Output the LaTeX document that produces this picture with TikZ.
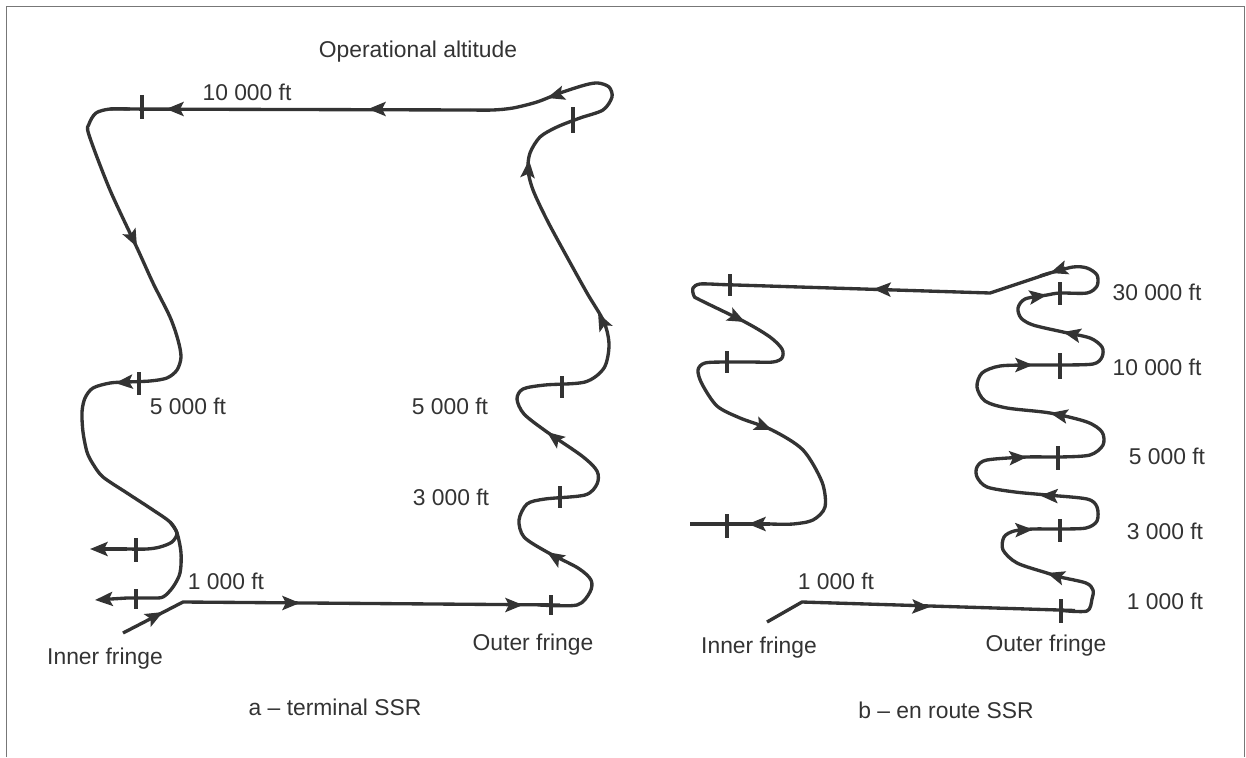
\documentclass[tikz,border=0pt]{standalone}
\usepackage{fontspec}
\setmainfont{Liberation Sans}
\usepackage{tikz}
\usetikzlibrary{arrows.meta}
\definecolor{ink}{HTML}{333333}
\definecolor{frame}{HTML}{777777}

\begin{document}
\begin{tikzpicture}[x=0.02cm,y=-0.02cm]
			\tikzstyle{route}=[draw=ink,line width=1.9pt,line join=round]
			\tikzstyle{flow}=[route,-{Stealth[length=10pt,width=8pt,inset=2pt]}]
			\tikzstyle{lbl}=[text=ink,font=\fontsize{13}{15}\selectfont,inner sep=0pt]
			
			\useasboundingbox (0,0) rectangle (1246,757);
			\draw[frame,line width=1pt] (6.5,757) -- (6.5,6.5) -- (1244.5,6.5) -- (1244.5,757);
			
			% a - terminal SSR
			\draw[route] (123,633) -- (183,602) -- (560,605);
			\draw[route] plot[smooth] coordinates {(540,605) (577,605) (590,592) (591,580) (578,568) (547,552) (524,537) (519,520) (527,504) (545,499) (585,495) (597,484) (597,471) (582,456) (547,432) (524,414) (517,399) (523,389) (545,385) (585,382) (604,368) (609,345) (604,322) (587,293) (567,257) (547,220) (533,190) (528,170) (530,153) (540,137) (557,127) (580,118) (603,110) (612,97) (609,87) (598,83) (585,85) (560,93) (537,102) (513,108) (493,110) (470,110)};
			\draw[route] (470,110) -- (110,109);
			\draw[route] plot[smooth] coordinates {(130,109) (110,109) (96,113) (89,124) (89,135) (110,190) (138,250) (153,283) (170,317) (178,340) (181,357) (177,370) (167,378) (150,381) (127,382) (110,383) (93,388) (85,398) (82,412) (83,432) (87,452) (93,464) (103,477) (127,493) (153,510) (170,522) (177,533) (181,553) (180,573) (173,587) (163,597) (150,598) (127,598)};
			\draw[route] plot[smooth] coordinates {(170,522) (177,533) (172,542) (160,547) (147,549) (127,549)};
			\draw[flow] (127,598) -- (95,600);
			\draw[flow] (127,549) -- (90,549);
			
			\draw[flow] (150,619) -- (163,612);
			\draw[flow] (285,603) -- (300,603);
			\draw[flow] (510,605) -- (523,605);
			\draw[flow] (558,559) -- (547,552);
			\draw[flow] (555,438) -- (547,432);
			\draw[flow] (603,323) -- (598,313);
			\draw[flow] (528,172) -- (529,160);
			\draw[flow] (560,94) -- (547,98);
			\draw[flow] (383,109) -- (368,109);
			\draw[flow] (180,109) -- (166,109);
			\draw[flow] (131,235) -- (137,247);
			\draw[flow] (128,382) -- (115,383);
			
			\draw[route] (551,595) -- (551,615);
			\draw[route] (560,486) -- (560,508);
			\draw[route] (562,376) -- (562,398);
			\draw[route] (573,107) -- (573,133);
			\draw[route] (142,95) -- (142,119);
			\draw[route] (139,372) -- (139,395);
			\draw[route] (136,538) -- (136,562);
			\draw[route] (136,589) -- (136,609);
			
			\node[lbl] (opalt) at (418,52) {Operational altitude};
			\node[lbl] (a10k) at (247,92) {10 000 ft};
			\node[lbl] (a5kin) at (188,406) {5 000 ft};
			\node[lbl] (a5kout) at (450,406) {5 000 ft};
			\node[lbl] (a3k) at (451,497) {3 000 ft};
			\node[lbl] (a1k) at (226,581) {1 000 ft};
			\node[lbl] (ainner) at (105,659) {Inner fringe};
			\node[lbl] (aouter) at (533,645) {Outer fringe};
			\node[lbl] (acap) at (335,707) {a -- terminal SSR};
			
			% b - en route SSR
			\draw[route] (767,622) -- (802,602) -- (1075,610.5);
			\draw[route] plot[smooth] coordinates {(1062,610.5) (1087,611) (1092,599) (1093,590) (1086,583) (1060,577) (1047,573) (1017,563) (1003,550) (1004,537) (1014,531) (1033,529) (1060,529) (1086,528) (1097,521) (1097,507) (1087,499) (1047,495) (1015,492) (987,487) (977,477) (977,467) (987,460) (1027,457) (1060,457) (1090,455) (1103,445) (1102,432) (1087,422) (1050,413) (1007,408) (985,401) (977,387) (982,373) (1000,366) (1033,365) (1060,365) (1093,364) (1102,357) (1102,347) (1090,338) (1063,332) (1033,325) (1021,318) (1018,308) (1025,299) (1047,295) (1060,293) (1087,293) (1097,286) (1097,275) (1087,268) (1073,267) (1050,273) (1040,276)};
			\draw[route] (1050,273) -- (990,293) -- (720,284.5);
			\draw[route] plot[smooth] coordinates {(720,284.5) (700,284) (693,288) (694,296) (700,300) (745,322) (770,337) (782,349) (782,358) (773,362) (750,362) (727,362) (705,363) (698,370) (702,384) (717,406) (740,418) (772,430) (803,450) (822,482) (825,507) (813,520) (793,524) (770,524)};
			\draw[route] (770,524) -- (690,524);
			
			\draw[flow] (915,606.5) -- (930,607);
			\draw[flow] (1060,577) -- (1047,573);
			\draw[flow] (1018,530) -- (1033,529.5);
			\draw[flow] (1055,496) -- (1040,495.5);
			\draw[flow] (1012,458) -- (1027,457);
			\draw[flow] (1065,416) -- (1050,413);
			\draw[flow] (1018,365) -- (1033,365);
			\draw[flow] (1077,335) -- (1063,332);
			\draw[flow] (1033,297) -- (1047,295);
			\draw[flow] (1065,268) -- (1050,273);
			\draw[flow] (888,289.5) -- (873,289);
			\draw[flow] (733,316) -- (745,322);
			\draw[flow] (760,425) -- (772,430);
			\draw[flow] (763,524) -- (748,524);
			
			\draw[route] (1061,599) -- (1061,623);
			\draw[route] (1060,519) -- (1060,542);
			\draw[route] (1058,446) -- (1058,470);
			\draw[route] (1060,353) -- (1060,379);
			\draw[route] (1060,282) -- (1060,305);
			\draw[route] (730,274) -- (730,296);
			\draw[route] (727,351) -- (727,373);
			\draw[route] (727,514) -- (727,538);
			
			\node[lbl] (b30k) at (1157,292) {30 000 ft};
			\node[lbl] (b10k) at (1157,367) {10 000 ft};
			\node[lbl] (b5k) at (1167,456) {5 000 ft};
			\node[lbl] (b3k) at (1165,531) {3 000 ft};
			\node[lbl] (b1kout) at (1165,601) {1 000 ft};
			\node[lbl] (b1kin) at (836,581) {1 000 ft};
			\node[lbl] (binner) at (759,648) {Inner fringe};
			\node[lbl] (bouter) at (1046,646) {Outer fringe};
			\node[lbl] (bcap) at (946,710) {b -- en route SSR};
			
		\end{tikzpicture}
\end{document}
